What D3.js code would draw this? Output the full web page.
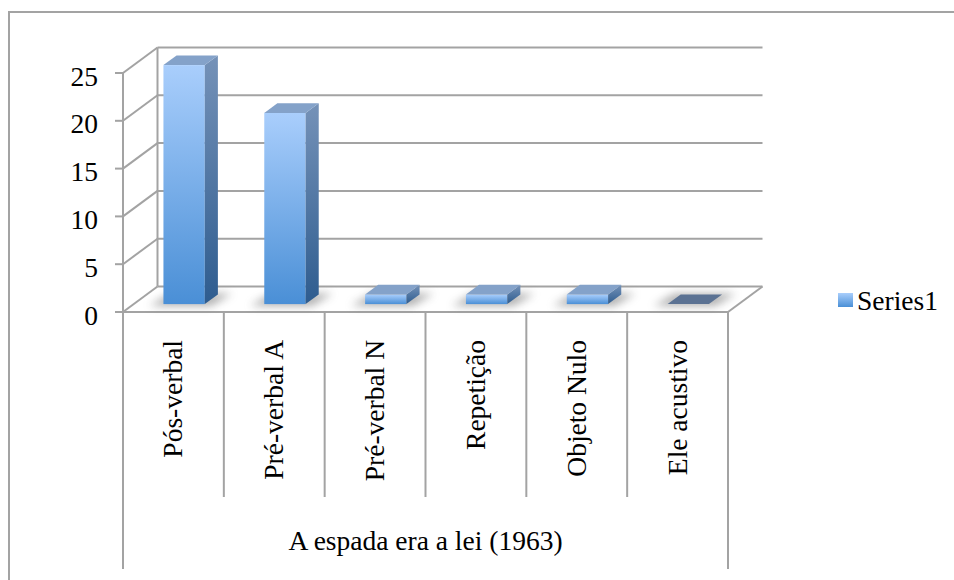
<!DOCTYPE html>
<html>
<head>
<meta charset="utf-8">
<script src="https://cdn.jsdelivr.net/npm/d3@7"></script>
<style>
  html, body { margin: 0; padding: 0; background: #fff; }
  svg { display: block; }
</style>
</head>
<body>
<svg id="chart" width="954" height="580"></svg>
<script>
const categories = ["Pós-verbal", "Pré-verbal A", "Pré-verbal N", "Repetição", "Objeto Nulo", "Ele acustivo"];
const values = [25, 20, 1, 1, 1, 0];
const yTicks = [0, 5, 10, 15, 20, 25];
const groupLabel = "A espada era a lei (1963)";
const seriesName = "Series1";

const FONT = "'Liberation Serif', 'Times New Roman', serif";
const FS = 27.5;

const svg = d3.select("#chart");
const GRID = "#a3a3a3";

const DX = 34.5, DY = -25.5;
const F0 = 0.31, F1 = 0.69;

const x = d3.scaleBand().domain(categories).range([123, 728]).paddingInner(0).paddingOuter(0);
const y = d3.scaleLinear().domain([0, 25]).range([312, 73]);

const defs = svg.append("defs");
const gFront = defs.append("linearGradient").attr("id", "gFront").attr("x1", 0).attr("y1", 0).attr("x2", 0).attr("y2", 1);
gFront.append("stop").attr("offset", "0%").attr("stop-color", "#a9cefc");
gFront.append("stop").attr("offset", "100%").attr("stop-color", "#4a8fd6");
const gSide = defs.append("linearGradient").attr("id", "gSide").attr("x1", 0).attr("y1", 0).attr("x2", 0).attr("y2", 1);
gSide.append("stop").attr("offset", "0%").attr("stop-color", "#7592b8");
gSide.append("stop").attr("offset", "100%").attr("stop-color", "#2e5c8f");
const blur = defs.append("filter").attr("id", "blur").attr("x", "-50%").attr("y", "-100%").attr("width", "200%").attr("height", "300%");
blur.append("feGaussianBlur").attr("stdDeviation", 4);

svg.append("rect").attr("x", 9).attr("y", 12).attr("width", 960).attr("height", 600)
  .attr("fill", "none").attr("stroke", GRID).attr("stroke-width", 2);

const walls = svg.append("g").attr("stroke", GRID).attr("stroke-width", 2).attr("fill", "none");
const x0 = x.range()[0], x1 = x.range()[1];
yTicks.forEach(v => {
  walls.append("line").attr("x1", x0 + DX).attr("x2", x1 + DX).attr("y1", y(v) + DY).attr("y2", y(v) + DY);
  walls.append("line").attr("x1", x0).attr("y1", y(v)).attr("x2", x0 + DX).attr("y2", y(v) + DY);
  walls.append("line").attr("x1", x0 - 8).attr("x2", x0).attr("y1", y(v)).attr("y2", y(v));
});
walls.append("line").attr("x1", x0 + DX).attr("x2", x0 + DX).attr("y1", y(25) + DY).attr("y2", y(0) + DY);
walls.append("line").attr("x1", x0).attr("x2", x0).attr("y1", y(25)).attr("y2", 569);
walls.append("line").attr("x1", x0).attr("x2", x1).attr("y1", y(0)).attr("y2", y(0));
walls.append("line").attr("x1", x1).attr("y1", y(0)).attr("x2", x1 + DX).attr("y2", y(0) + DY);
categories.forEach((c, i) => {
  if (i === 0) return;
  walls.append("line").attr("x1", x(c)).attr("x2", x(c)).attr("y1", y(0)).attr("y2", 497);
});
walls.append("line").attr("x1", x1).attr("x2", x1).attr("y1", y(0)).attr("y2", 569);

const bw = x.bandwidth() * 0.41;
const fdx = DX * F0, fdy = DY * F0;
const ddx = DX * (F1 - F0), ddy = DY * (F1 - F0);

const shadows = svg.append("g").attr("filter", "url(#blur)").attr("opacity", 0.55);
const bars = svg.append("g");
categories.forEach((c, i) => {
  const v = values[i];
  const left = x(c) + (x.bandwidth() - bw) / 2 + fdx;
  const right = left + bw;
  const base = y(0) + fdy;
  const top = y(v) + fdy;
  shadows.append("polygon")
    .attr("points", [[left - 14, base + 2], [right + 6, base + 2], [right + ddx + 14, base + ddy - 1], [left + ddx - 6, base + ddy - 1]].map(p => p.join(",")).join(" "))
    .attr("fill", "#6f6f6f");
  if (v > 0) {
    bars.append("rect").attr("x", left).attr("y", top).attr("width", bw).attr("height", base - top)
      .attr("fill", "url(#gFront)");
    bars.append("polygon")
      .attr("points", [[right, top], [right + ddx, top + ddy], [right + ddx, base + ddy], [right, base]].map(p => p.join(",")).join(" "))
      .attr("fill", "url(#gSide)");
    bars.append("polygon")
      .attr("points", [[left, top], [right, top], [right + ddx, top + ddy], [left + ddx, top + ddy]].map(p => p.join(",")).join(" "))
      .attr("fill", "#84a2c9");
  } else {
    bars.append("polygon")
      .attr("points", [[left, top], [right, top], [right + ddx, top + ddy], [left + ddx, top + ddy]].map(p => p.join(",")).join(" "))
      .attr("fill", "#5b7293");
  }
});

svg.append("g").selectAll("text").data(yTicks).join("text")
  .attr("x", 98).attr("y", d => y(d) + 3)
  .attr("text-anchor", "end").attr("dominant-baseline", "central")
  .attr("font-family", FONT).attr("font-size", FS).attr("fill", "#000")
  .text(d => d);

svg.append("g").selectAll("text").data(categories).join("text")
  .attr("transform", d => `translate(${x(d) + x.bandwidth() / 2 + 9},340) rotate(-90)`)
  .attr("text-anchor", "end")
  .attr("font-family", FONT).attr("font-size", FS).attr("fill", "#000")
  .text(d => d);

svg.append("text").attr("x", (x0 + x1) / 2).attr("y", 550)
  .attr("text-anchor", "middle")
  .attr("font-family", FONT).attr("font-size", FS).attr("fill", "#000")
  .text(groupLabel);

svg.append("rect").attr("x", 838).attr("y", 293).attr("width", 15).attr("height", 14).attr("fill", "url(#gFront)");
svg.append("text").attr("x", 857).attr("y", 310)
  .attr("font-family", FONT).attr("font-size", FS).attr("fill", "#000")
  .text(seriesName);
</script>
</body>
</html>
